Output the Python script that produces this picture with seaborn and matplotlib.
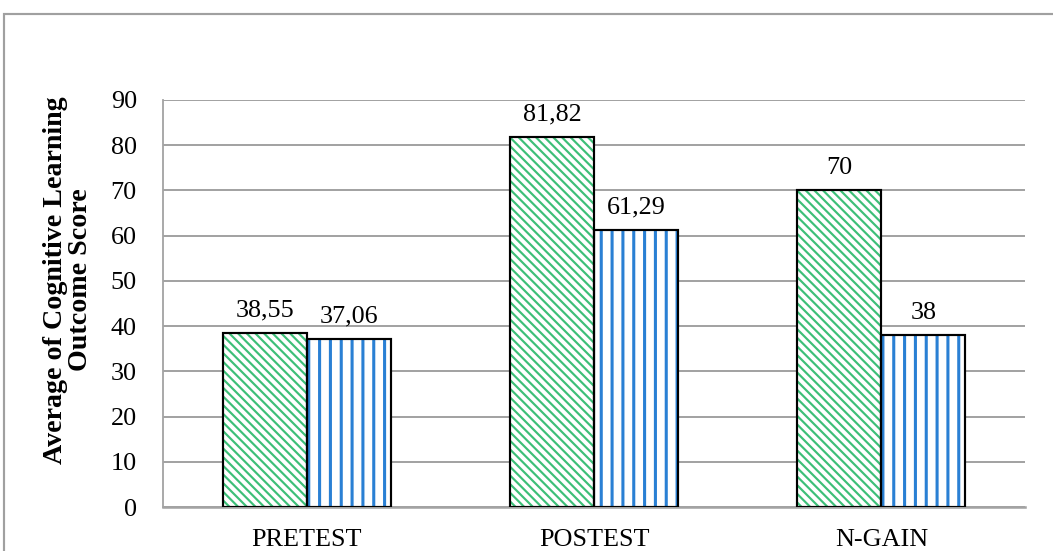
import matplotlib
matplotlib.use("Agg")
import matplotlib.pyplot as plt
import seaborn as sns
import pandas as pd
from matplotlib.patches import Rectangle

categories = ["PRETEST", "POSTEST", "N-GAIN"]
groups = ["Experimental", "Control"]
experimental = [38.55, 81.82, 70]
control = [37.06, 61.29, 38]
yticks = [0, 10, 20, 30, 40, 50, 60, 70, 80, 90]
ylabel = "Average of Cognitive Learning\nOutcome Score"

hatch_colors = {"Experimental": "#3dbf78", "Control": "#2a80d4"}
hatches = {"Experimental": "\\" * 5, "Control": "||"}
hatch_lw = {"Experimental": 1.2, "Control": 1.7}

df = pd.DataFrame({
    "cat": categories * 2,
    "group": [groups[0]] * 3 + [groups[1]] * 3,
    "value": experimental + control,
})

sns.set_theme(style="white")
plt.rcParams["font.family"] = ["Liberation Serif", "DejaVu Serif"]
plt.rcParams["hatch.linewidth"] = 1.3

DPI = 130
fig = plt.figure(figsize=(1053 / DPI, 551 / DPI), dpi=DPI)
ax = fig.add_axes([163 / 1053, 1 - 507 / 551, (1025 - 163) / 1053, (507 - 100) / 551])

sns.barplot(data=df, x="cat", y="value", hue="group", hue_order=groups,
            order=categories, width=0.585, gap=0, ax=ax, legend=False,
            palette=["white", "white"], errorbar=None, saturation=1)

ncat = len(categories)
for i, p in enumerate(ax.patches[: 2 * ncat]):
    g = groups[i // ncat]
    p.set_facecolor("white")
    p.set_edgecolor(hatch_colors[g])
    p.set_linewidth(0)
    p.set_hatch(hatches[g])
    if hasattr(p, "set_hatch_linewidth"):
        p.set_hatch_linewidth(hatch_lw[g])
    else:
        p._hatch_linewidth = hatch_lw[g]
    ax.add_patch(Rectangle(p.get_xy(), p.get_width(), p.get_height(),
                           fill=False, edgecolor="black", linewidth=1.2, zorder=3))

for c in ax.containers:
    labels = [f"{v:g}".replace(".", ",") for v in c.datavalues]
    for bar, lab in zip(c, labels):
        ax.annotate(lab, (bar.get_x() + bar.get_width() / 2, bar.get_height()),
                    xytext=(0, 9.2), textcoords="offset points",
                    ha="center", va="baseline", fontsize=14.5, color="black")

ax.set_ylim(0, 90)
ax.set_yticks(yticks)
ax.set_xlim(-0.5, 2.5)
ax.yaxis.grid(True, color="#a3a3a3", linewidth=1.1)
ax.set_axisbelow(True)
ax.tick_params(axis="y", length=0, pad=14.5, labelsize=14.5, labelcolor="black")
ax.tick_params(axis="x", length=0, pad=12, labelsize=14.5, labelcolor="black")
ax.set_xlabel("")
ax.set_ylabel(ylabel, fontsize=15.5, fontweight="bold", color="black",
              linespacing=1.0, va="center", ha="center")
ax.yaxis.set_label_coords((68 - 163) / 862, (507 - 280) / 407)
for s in ["top", "right"]:
    ax.spines[s].set_visible(False)
ax.spines["left"].set_color("#a3a3a3")
ax.spines["left"].set_linewidth(1.0)
ax.spines["bottom"].set_color("#a3a3a3")
ax.spines["bottom"].set_linewidth(1.4)

fig.patches.append(Rectangle((4 / 1053, -0.2), 1.3, 0.2 + (1 - 14 / 551),
                             transform=fig.transFigure, fill=False,
                             edgecolor="#a0a0a0", linewidth=1.2, clip_on=False))

fig.savefig("out.png", dpi=DPI, facecolor="white")
